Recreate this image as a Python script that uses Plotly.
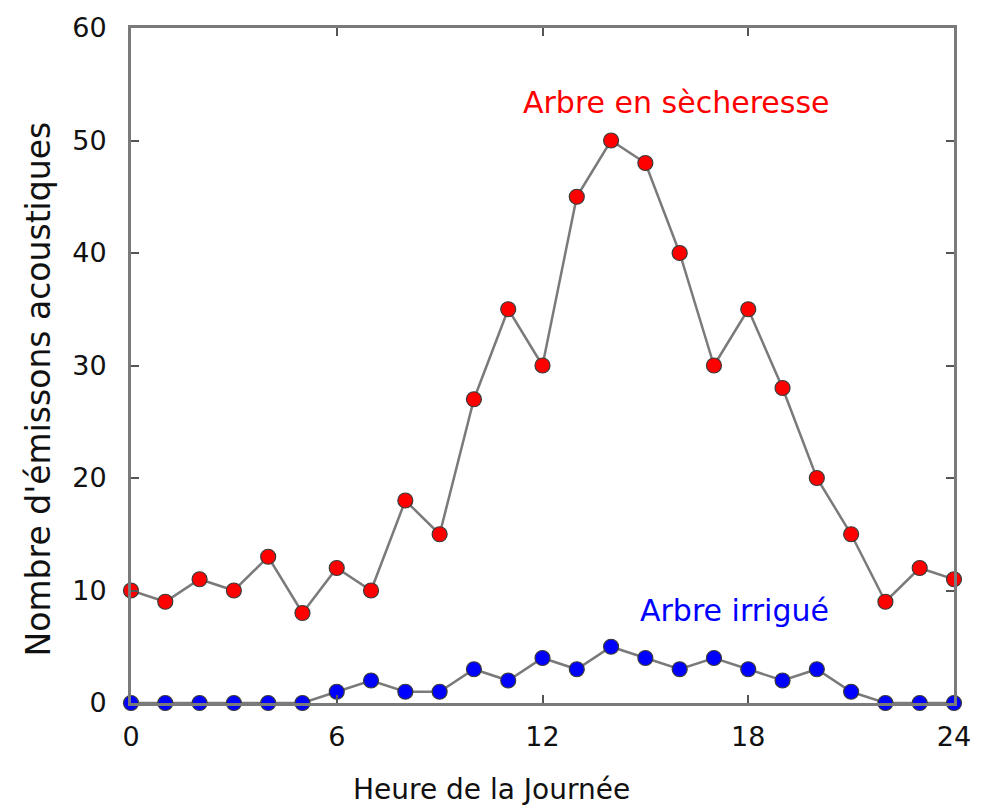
import plotly.graph_objects as go

# Heure de la journée (0 h à 24 h)
heures = list(range(0, 25))

# Nombre d'émissions acoustiques par heure
secheresse = [10, 9, 11, 10, 13, 8, 12, 10, 18, 15, 27, 35, 30, 45, 50,
              48, 40, 30, 35, 28, 20, 15, 9, 12, 11]
irrigue = [0, 0, 0, 0, 0, 0, 1, 2, 1, 1, 3, 2, 4, 3, 5,
           4, 3, 4, 3, 2, 3, 1, 0, 0, 0]

x_ticks = [0, 6, 12, 18, 24]
y_ticks = [0, 10, 20, 30, 40, 50, 60]

FONT = "DejaVu Sans"
LINE = "#7a7a7a"
EDGE = "#3a3a3a"

# plot area in pixels, used to place the axis titles
L, R, T, B = 131, 963, 25, 703

fig = go.Figure()

for valeurs, couleur in [(secheresse, "#ff0000"), (irrigue, "#0000ff")]:
    fig.add_trace(go.Scatter(
        x=heures, y=valeurs, mode="lines+markers",
        line=dict(color=LINE, width=2.5),
        marker=dict(color=couleur, size=15, line=dict(color=EDGE, width=1.2)),
        cliponaxis=False, showlegend=False,
    ))

fig.add_annotation(x=15.9, y=53.4, xref="x", yref="y", text="Arbre en sècheresse",
                   showarrow=False, font=dict(family=FONT, size=30, color="#ff0000"))
fig.add_annotation(x=17.6, y=8.2, xref="x", yref="y", text="Arbre irrigué",
                   showarrow=False, font=dict(family=FONT, size=30, color="#0000ff"))

# axis titles
fig.add_annotation(xref="paper", yref="paper",
                   x=(495 - L) / (R - L), y=-(790 - B) / (B - T),
                   text="Heure de la Journée", showarrow=False,
                   font=dict(family=FONT, size=28, color="#111"),
                   xanchor="center", yanchor="middle")
fig.add_annotation(xref="paper", yref="paper",
                   x=-(L - 37) / (R - L), y=(B - 388) / (B - T),
                   text="Nombre d'émissons acoustiques", textangle=-90, showarrow=False,
                   font=dict(family=FONT, size=33, color="#111"),
                   xanchor="center", yanchor="middle")

axis_common = dict(
    showline=True, linecolor=LINE, linewidth=3, mirror="ticks",
    ticks="inside", ticklen=8, tickwidth=2, tickcolor="#555",
    showgrid=False, zeroline=False,
    tickfont=dict(family=FONT, size=27, color="#111"),
)

fig.update_xaxes(range=[0, 24], tickvals=x_ticks, ticklabelstandoff=8, **axis_common)
fig.update_yaxes(range=[0, 60], tickvals=y_ticks, ticklabelstandoff=16, **axis_common)

fig.update_layout(
    width=983, height=810,
    margin=dict(l=L, r=983 - R, t=T, b=810 - B),
    plot_bgcolor="white", paper_bgcolor="white",
)

fig.write_html("out.html")
